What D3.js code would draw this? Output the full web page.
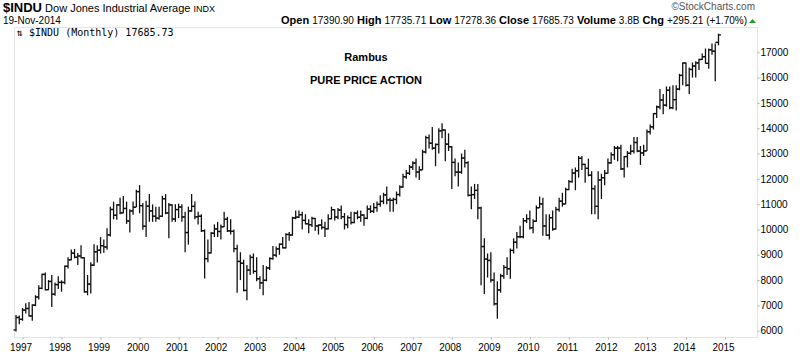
<!DOCTYPE html>
<html>
<head>
<meta charset="utf-8">
<script src="https://cdn.jsdelivr.net/npm/d3@7"></script>
<style>
  body { margin: 0; background: #fff; }
  svg { display: block; font-family: "Liberation Sans", Arial, sans-serif; }
</style>
</head>
<body>
<svg id="chart"></svg>
<script>
let w = 800;
let h = 352;

// monthly bars, Nov 1996 .. Nov 2014
const startYear = 1996, startMonth = 10;

const opens = [
  6029, 6522,
  6448, 6813, 6878, 6583, 7009, 7331, 7673, 8223, 7622, 7945, 7442, 7823,
  7908, 7907, 8546, 8800, 9063, 8900, 8952, 8883, 7539, 7843, 8592, 9117,
  9181, 9359, 9307, 9786, 10789, 10560, 10971, 10655, 10829, 10337, 10730, 10878,
  11497, 10941, 10128, 10922, 10734, 10522, 10448, 10522, 11215, 10651, 10971, 10414,
  10787, 10887, 10495, 9879, 10735, 10912, 10502, 10523, 9950, 8848, 9075, 9852,
  10022, 9920, 10106, 10404, 9946, 9925, 9243, 8737, 8664, 7592, 8397, 8896,
  8342, 8054, 7891, 7992, 8480, 8850, 8985, 9234, 9416, 9275, 9801, 9782,
  10454, 10488, 10584, 10358, 10226, 10188, 10435, 10140, 10174, 10080, 10027, 10428,
  10783, 10490, 10766, 10504, 10193, 10467, 10275, 10641, 10482, 10569, 10440, 10806,
  10718, 10865, 10993, 11109, 11367, 11168, 11150, 11186, 11381, 11679, 12081, 12222,
  12463, 12622, 12269, 12354, 13063, 13628, 13409, 13212, 13358, 13896, 13930, 13372,
  13265, 12650, 12266, 12263, 12820, 12638, 11350, 11378, 11544, 10851, 9325, 8829,
  8776, 8001, 7063, 7609, 8168, 8500, 8447, 9172, 9496, 9712, 9713, 10345,
  10428, 10067, 10325, 10857, 11009, 10137, 9774, 10466, 10015, 10788, 11118, 11006,
  11578, 11892, 12226, 12320, 12811, 12570, 12414, 12143, 11614, 10913, 11955, 12046,
  12218, 12633, 12952, 13212, 13214, 12393, 12880, 13009, 13091, 13437, 13096, 13026,
  13104, 13861, 14054, 14579, 14840, 15116, 14910, 15500, 14810, 15130, 15546, 16086,
  16577, 15699, 16322, 16458, 16581, 16717, 16827, 16563, 17098, 17043, 17391
];

const highs = [
  6620, 6600,
  6900, 7080, 7130, 7050, 7400, 7800, 8260, 8300, 8000, 8200, 7900, 8150,
  7990, 8580, 8900, 9210, 9230, 9070, 9380, 8900, 8200, 8700, 9420, 9380,
  9700, 9600, 10050, 10900, 11100, 11000, 11250, 11320, 11100, 10800, 11100, 11570,
  11750, 11050, 11130, 11400, 10990, 10900, 10900, 11330, 11400, 11050, 11000, 11000,
  11020, 11000, 10700, 10900, 11400, 11100, 10700, 10600, 10000, 9600, 9900, 10200,
  10300, 10200, 10700, 10500, 10400, 10000, 9400, 9100, 8800, 8600, 9000, 9050,
  8900, 8150, 8600, 8550, 8900, 9350, 9330, 9450, 9700, 9850, 9900, 10500,
  10750, 10750, 10700, 10600, 10400, 10500, 10450, 10200, 10400, 10300, 10600, 10900,
  10800, 10850, 10950, 10650, 10550, 10700, 10700, 10750, 10750, 10600, 10950, 10950,
  11050, 11100, 11350, 11450, 11700, 11250, 11250, 11500, 11750, 12200, 12350, 12550,
  12700, 12800, 12500, 13150, 13700, 13750, 14050, 13400, 14000, 14200, 13950, 13800,
  13300, 12800, 12650, 13000, 13150, 12700, 11700, 11800, 11800, 10900, 9650, 9050,
  9100, 8300, 7950, 8250, 8600, 8900, 9250, 9650, 9900, 10150, 10450, 10600,
  10750, 10400, 10950, 11300, 11250, 10600, 10600, 10750, 10900, 11250, 11450, 11650,
  11950, 12400, 12450, 12900, 12900, 12600, 12800, 12300, 11750, 12300, 12200, 12350,
  12800, 13050, 13300, 13300, 13350, 12900, 13100, 13350, 13650, 13650, 13300, 13350,
  13950, 14150, 14600, 14900, 15550, 15350, 15650, 15650, 15700, 15700, 16150, 16600,
  16600, 16400, 16600, 16650, 16750, 16950, 17150, 17150, 17350, 17350, 17736
];

const lows = [
  5970, 6250,
  6390, 6680, 6560, 6390, 6970, 7230, 7640, 7590, 7600, 6940, 7380, 7650,
  7540, 7840, 8460, 8780, 8860, 8600, 8860, 7500, 7400, 7470, 8560, 8690,
  9050, 9080, 9200, 9720, 10400, 10380, 10600, 10640, 10220, 9880, 10580, 10890,
  10640, 9990, 9700, 10300, 10300, 10300, 10380, 10500, 10600, 9650, 10300, 10300,
  10450, 10300, 9100, 9400, 10700, 10400, 10200, 9900, 8060, 8700, 9050, 9700,
  9700, 9600, 10100, 9900, 9800, 9100, 7500, 8000, 7550, 7200, 8200, 8250,
  7950, 7650, 7400, 7950, 8400, 8800, 8900, 9000, 9250, 9250, 9550, 9750,
  10400, 10450, 10000, 10200, 9850, 10100, 9950, 9800, 10000, 9700, 10000, 10400,
  10350, 10400, 10400, 10000, 10050, 10200, 10250, 10400, 10300, 10150, 10400, 10650,
  10650, 10700, 10900, 11000, 11000, 10700, 10700, 11000, 11300, 11650, 12000, 12150,
  12350, 12050, 11950, 12350, 13000, 13200, 13150, 12500, 13000, 13600, 12700, 13100,
  11600, 12100, 11700, 12200, 12450, 11300, 10800, 11200, 10400, 7800, 7450, 8100,
  7900, 7000, 6470, 7500, 8050, 8200, 8050, 9050, 9250, 9650, 9650, 10250,
  10000, 9850, 10300, 10850, 9750, 9750, 9600, 9950, 10000, 10700, 10900, 11000,
  11550, 11850, 11550, 12050, 12350, 11850, 12100, 10600, 10600, 10400, 11200, 11750,
  12200, 12600, 12750, 12700, 12350, 12050, 12450, 12950, 13000, 13050, 12550, 12900,
  13100, 13750, 13950, 14400, 14750, 14550, 14850, 14750, 14750, 14700, 15500, 15700,
  15650, 15350, 16000, 16000, 16300, 16700, 16550, 16350, 16900, 15855, 17278
];

const closes = [
  6522, 6448,
  6813, 6878, 6583, 7009, 7331, 7673, 8223, 7622, 7945, 7442, 7823, 7908,
  7907, 8546, 8800, 9063, 8900, 8952, 8883, 7539, 7843, 8592, 9117, 9181,
  9359, 9307, 9786, 10789, 10560, 10971, 10655, 10829, 10337, 10730, 10878, 11497,
  10941, 10128, 10922, 10734, 10522, 10448, 10522, 11215, 10651, 10971, 10414, 10787,
  10887, 10495, 9879, 10735, 10912, 10502, 10523, 9950, 8848, 9075, 9852, 10022,
  9920, 10106, 10404, 9946, 9925, 9243, 8737, 8664, 7592, 8397, 8896, 8342,
  8054, 7891, 7992, 8480, 8850, 8985, 9234, 9416, 9275, 9801, 9782, 10454,
  10488, 10584, 10358, 10226, 10188, 10435, 10140, 10174, 10080, 10027, 10428, 10783,
  10490, 10766, 10504, 10193, 10467, 10275, 10641, 10482, 10569, 10440, 10806, 10718,
  10865, 10993, 11109, 11367, 11168, 11150, 11186, 11381, 11679, 12081, 12222, 12463,
  12622, 12269, 12354, 13063, 13628, 13409, 13212, 13358, 13896, 13930, 13372, 13265,
  12650, 12266, 12263, 12820, 12638, 11350, 11378, 11544, 10851, 9325, 8829, 8776,
  8001, 7063, 7609, 8168, 8500, 8447, 9172, 9496, 9712, 9713, 10345, 10428,
  10067, 10325, 10857, 11009, 10137, 9774, 10466, 10015, 10788, 11118, 11006, 11578,
  11892, 12226, 12320, 12811, 12570, 12414, 12143, 11614, 10913, 11955, 12046, 12218,
  12633, 12952, 13212, 13214, 12393, 12880, 13009, 13091, 13437, 13096, 13026, 13104,
  13861, 14054, 14579, 14840, 15116, 14910, 15500, 14810, 15130, 15546, 16086, 16577,
  15699, 16322, 16458, 16581, 16717, 16827, 16563, 17098, 17043, 17391, 17686
];

const yTicks = [6000, 7000, 8000, 9000, 10000, 11000, 12000, 13000, 14000, 15000, 16000, 17000];
const yearLabels = [1997, 1998, 1999, 2000, 2001, 2002, 2003, 2004, 2005, 2006,
  2007, 2008, 2009, 2010, 2011, 2012, 2013, 2014, 2015];

const quote = [
  ["Open", "17390.90"], ["High", "17735.71"], ["Low", "17278.36"],
  ["Close", "17685.73"], ["Volume", "3.8B"], ["Chg", "+295.21 (+1.70%)"]
];

const bars = closes.map((c, i) => ({ i: i, o: opens[i], h: highs[i], l: lows[i], c: c }));

// plot box
const boxL = 14, boxR = 757, boxT = 27, boxB = 337;

// month index -> x, Nov 1996 is index 0
const x = d3.scaleLinear().domain([0, 218]).range([16, 725]);
const y = d3.scaleLinear().domain([6000, 17000]).range([330.7, 52.3]);

const monthIndex = yr => (yr - startYear) * 12 - startMonth;

const chart = d3.select('#chart').attr('width', w).attr('height', h);

// frame
chart.append('rect')
    .attr('x', boxL + 0.5).attr('y', boxT + 0.5)
    .attr('width', boxR - boxL).attr('height', boxB - boxT)
    .style('fill', 'none').style('stroke', '#c8c8c8')
    .style('stroke-dasharray', '1,1');

// right axis
const yAxis = d3.axisRight(y).tickValues(yTicks).tickFormat(d3.format('d'))
    .tickSize(2).tickPadding(1);
const gy = chart.append('g')
    .attr('transform', `translate(${boxR + 0.5},0)`)
    .call(yAxis);
gy.select('.domain').remove();
gy.selectAll('line').style('stroke', '#aaa');
gy.selectAll('text').style('font-size', '10px').style('fill', '#000')
    .style('font-family', '"Liberation Sans", Arial, sans-serif');

// bottom axis
const xAxis = d3.axisBottom(x)
    .tickValues(yearLabels.map(monthIndex))
    .tickFormat((d, k) => yearLabels[k])
    .tickSize(2).tickPadding(4);
const gx = chart.append('g')
    .attr('transform', `translate(0,${boxB + 0.5})`)
    .call(xAxis);
gx.select('.domain').remove();
gx.selectAll('line').style('stroke', '#aaa');
gx.selectAll('text').style('font-size', '10px').style('fill', '#000')
    .attr('dx', '-2px')
    .style('font-family', '"Liberation Sans", Arial, sans-serif');

// ohlc bars
const g = chart.append('g').style('stroke', '#111').style('stroke-width', 1.3);
g.selectAll('line.hl')
    .data(bars).enter().append('line')
    .attr('class', 'hl')
    .attr('x1', d => x(d.i)).attr('x2', d => x(d.i))
    .attr('y1', d => y(d.h)).attr('y2', d => y(d.l));
g.selectAll('line.op')
    .data(bars).enter().append('line')
    .attr('class', 'op')
    .attr('x1', d => x(d.i) - 2.5).attr('x2', d => x(d.i))
    .attr('y1', d => y(d.o)).attr('y2', d => y(d.o));
g.selectAll('line.cl')
    .data(bars).enter().append('line')
    .attr('class', 'cl')
    .attr('x1', d => x(d.i)).attr('x2', d => x(d.i) + 2.5)
    .attr('y1', d => y(d.c)).attr('y2', d => y(d.c));

// header
const t1 = chart.append('text').attr('x', 3).attr('y', 12);
t1.append('tspan').text('$INDU').style('font-weight', 'bold').style('font-size', '13px');
t1.append('tspan').text(' Dow Jones Industrial Average ').style('font-size', '11px');
t1.append('tspan').text('INDX').style('font-size', '9px');

chart.append('text').attr('x', 3).attr('y', 24)
    .style('font-size', '10px').text('19-Nov-2014');

chart.append('text').attr('x', 755).attr('y', 10)
    .attr('text-anchor', 'end').style('font-size', '10px').style('fill', '#555')
    .text('\u00a9StockCharts.com');

const qt = chart.append('text').attr('x', 747).attr('y', 24)
    .attr('text-anchor', 'end').style('font-size', '10px')
    .attr('xml:space', 'preserve');
quote.forEach(([k, v], j) => {
    qt.append('tspan').text((j ? ' ' : '') + k + ' ')
        .style('font-weight', 'bold').style('font-size', '11px');
    qt.append('tspan').text(v);
});
chart.append('path')
    .attr('d', 'M749,23 L752.5,19 L756,23 Z')
    .style('fill', '#1a9a2a');

// legend inside the panel
chart.append('text').attr('x', 17).attr('y', 36)
    .style('font-size', '10px').style('font-family', '"DejaVu Sans Mono", monospace')
    .text('\u21c5 $INDU (Monthly) 17685.73');

// notes
chart.append('text').attr('x', 366).attr('y', 61).attr('text-anchor', 'middle')
    .style('font-size', '11px').style('font-weight', 'bold').text('Rambus');
chart.append('text').attr('x', 366).attr('y', 84).attr('text-anchor', 'middle')
    .style('font-size', '11px').style('font-weight', 'bold').text('PURE PRICE ACTION');
</script>
</body>
</html>
